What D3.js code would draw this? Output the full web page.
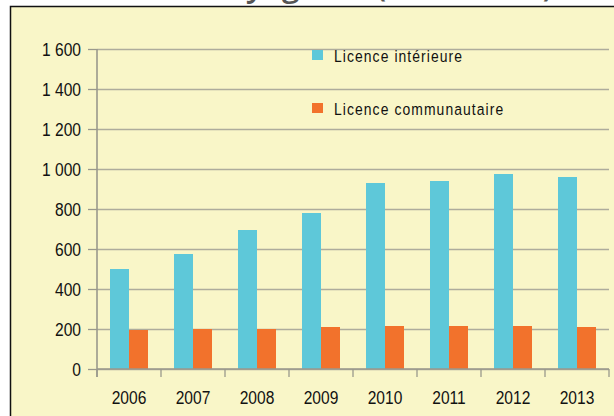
<!DOCTYPE html>
<head>
  <meta charset="utf-8">
  <script src="https://d3js.org/d3.v7.min.js"></script>
  <style>
    body { margin: 0; background: #fff; }
    text { font-family: "Liberation Sans", Arial, sans-serif; }
  </style>
</head>
<body>
<div id="chart"></div>
<script>
// data
var years = ["2006", "2007", "2008", "2009", "2010", "2011", "2012", "2013"];
var interieure = [500, 575, 695, 780, 930, 940, 975, 960];
var communautaire = [195, 200, 200, 210, 215, 215, 215, 210];
var seriesNames = ["Licence intérieure", "Licence communautaire"];
var seriesColors = ["#5ec8d9", "#f2722c"];
var yTicks = [0, 200, 400, 600, 800, 1000, 1200, 1400, 1600];

var W = 614, H = 416;
var pLeft = 97, pRight = 609, pTop = 49, pBottom = 369;
var squeeze = "scale(0.82,1)"; // the original font is a narrow one

var svg = d3.select("#chart").append("svg")
  .attr("width", W).attr("height", H);

// title, mostly cut off above the frame
svg.append("text")
  .attr("x", 553).attr("y", -4)
  .attr("text-anchor", "end")
  .style("font-family", "'Open Sans', sans-serif")
  .style("font-size", "32px")
  .style("font-weight", "600")
  .attr("fill", "#555")
  .text("Nombre de licences voyageurs (2006-2013)");

// frame
svg.append("rect")
  .attr("x", 10.5).attr("y", 6.5)
  .attr("width", W + 10).attr("height", H + 10)
  .attr("fill", "#f9f6c8")
  .attr("stroke", "#111").attr("stroke-width", 1.5);

var fr = d3.formatLocale({decimal: ",", thousands: " ", grouping: [3], currency: ["", " €"]});
var fmt = fr.format(",");

var x = d3.scaleBand().domain(years).range([pLeft, pRight]);
var x1 = d3.scaleBand().domain(seriesNames)
  .range([x.bandwidth() / 2 - 19, x.bandwidth() / 2 + 19]);
var y = d3.scaleLinear().domain([0, 1600]).range([pBottom, pTop]);

// gridlines
var grid = svg.append("g")
  .attr("transform", "translate(" + pLeft + ",0)")
  .call(d3.axisLeft(y).tickValues(yTicks).tickSize(-(pRight - pLeft)).tickFormat(""));
grid.select(".domain").remove();
grid.selectAll("line").attr("stroke", "#aeac9c").attr("stroke-width", 1.6);

// y axis ticks
var yAxis = svg.append("g")
  .attr("transform", "translate(" + pLeft + ",0)")
  .call(d3.axisLeft(y).tickValues(yTicks).tickSize(9).tickFormat(""));
yAxis.select(".domain").remove();
yAxis.selectAll("line").attr("stroke", "#9a998c").attr("stroke-width", 1.3);

// y labels
svg.append("g").selectAll("text")
  .data(yTicks)
  .enter().append("text")
    .attr("transform", function (d) { return "translate(81," + (y(d) + 7) + ") " + squeeze; })
    .attr("text-anchor", "end")
    .style("font-size", "19px")
    .attr("fill", "#111")
    .text(function (d) { return fmt(d); });

svg.append("line")
  .attr("x1", pLeft).attr("x2", pLeft)
  .attr("y1", pTop).attr("y2", pBottom + 8)
  .attr("stroke", "#9a998c").attr("stroke-width", 1.6);

// bars
var series = [interieure, communautaire];
series.forEach(function (vals, s) {
  svg.append("g").selectAll("rect")
    .data(vals)
    .enter().append("rect")
      .attr("x", function (d, i) { return x(years[i]) + x1(seriesNames[s]); })
      .attr("y", function (d) { return y(d); })
      .attr("width", x1.bandwidth())
      .attr("height", function (d) { return y(0) - y(d); })
      .attr("fill", seriesColors[s]);
});

// x axis
svg.append("line")
  .attr("x1", pLeft).attr("x2", pRight)
  .attr("y1", pBottom).attr("y2", pBottom)
  .attr("stroke", "#9a998c").attr("stroke-width", 1.6);
var bounds = years.map(function (d) { return x(d); }).concat([pRight]);
svg.append("g").selectAll("line")
  .data(bounds)
  .enter().append("line")
    .attr("x1", function (d) { return d; }).attr("x2", function (d) { return d; })
    .attr("y1", pBottom).attr("y2", pBottom + 8)
    .attr("stroke", "#9a998c").attr("stroke-width", 1.3);
svg.append("g").selectAll("text")
  .data(years)
  .enter().append("text")
    .attr("transform", function (d) {
      return "translate(" + (x(d) + x.bandwidth() / 2) + ",404) " + squeeze;
    })
    .attr("text-anchor", "middle")
    .style("font-size", "19px")
    .attr("fill", "#111")
    .text(function (d) { return d; });

// legend
var legend = svg.append("g").selectAll("g")
  .data(seriesNames)
  .enter().append("g")
    .attr("transform", function (d, i) { return "translate(312," + (50 + i * 53) + ")"; });
legend.append("rect")
  .attr("width", 11).attr("height", 10)
  .attr("fill", function (d, i) { return seriesColors[i]; });
legend.append("text")
  .attr("transform", "translate(22,12) " + squeeze)
  .style("font-size", "17px")
  .style("letter-spacing", "1.3px")
  .attr("fill", "#111")
  .text(function (d) { return d; });
</script>
</body>
